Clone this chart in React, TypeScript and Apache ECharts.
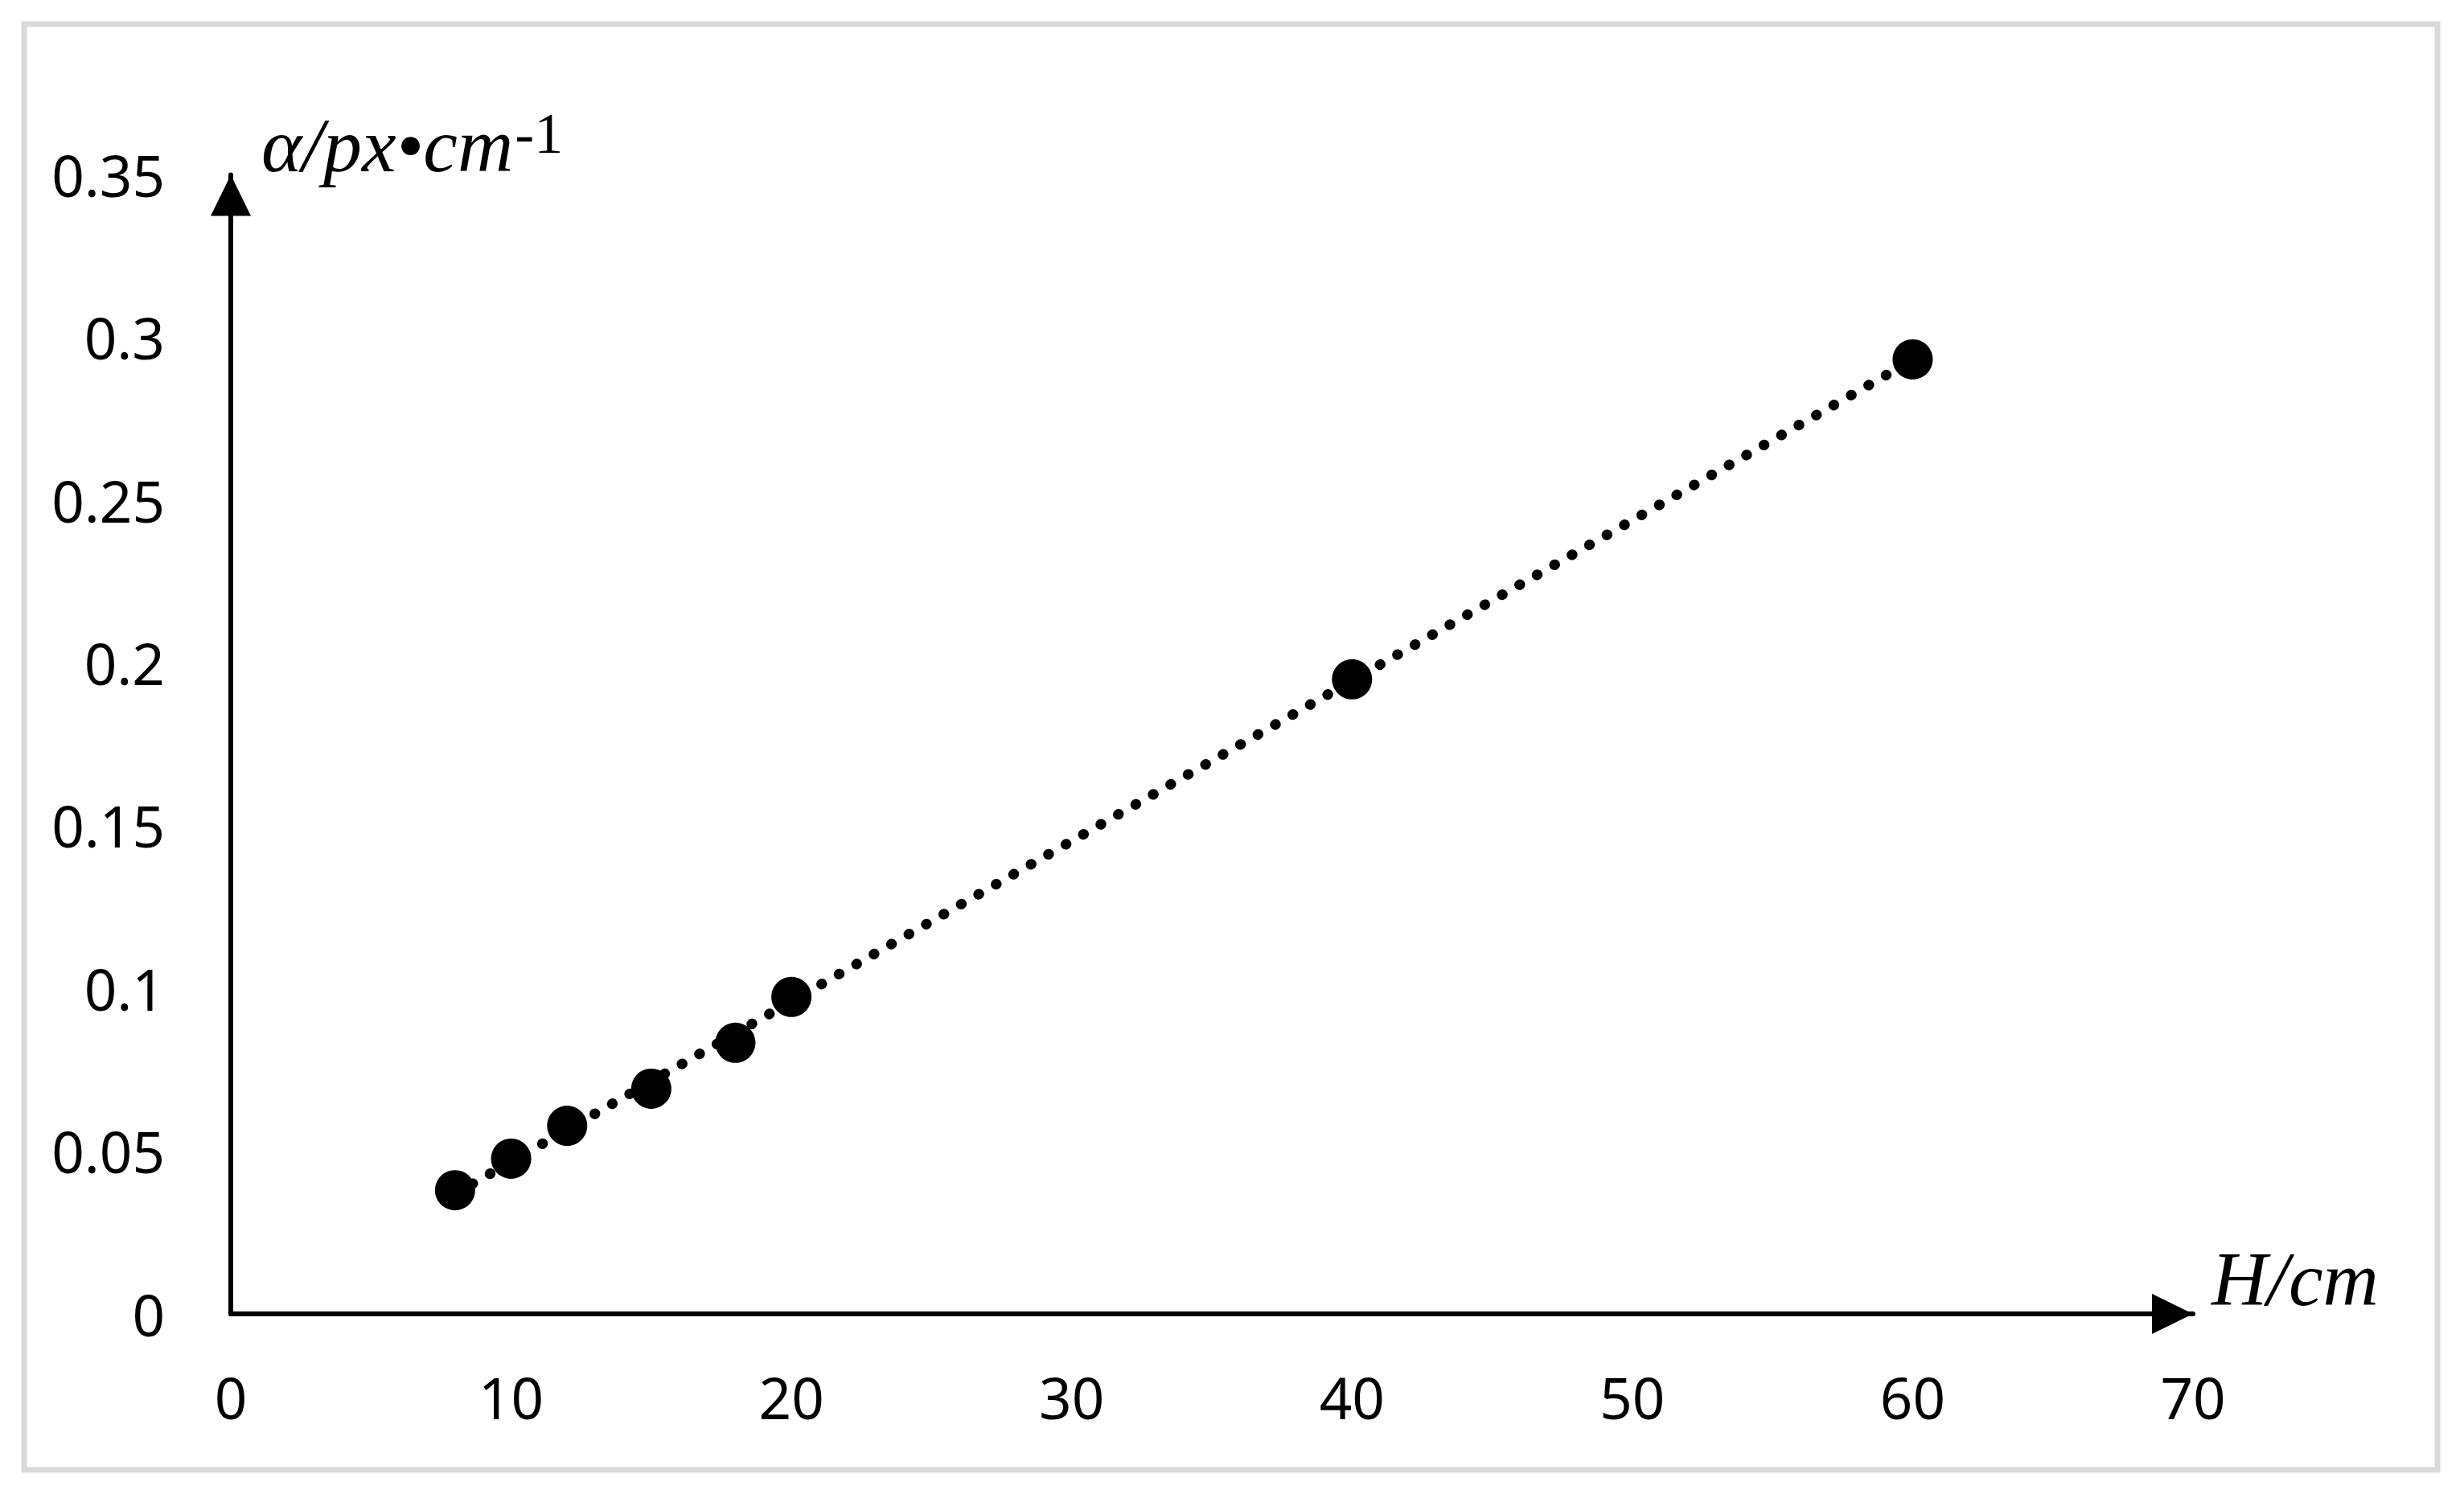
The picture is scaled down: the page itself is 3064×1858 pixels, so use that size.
import React, { useEffect, useRef } from "react";
import * as echarts from "echarts";

const heightsH = [8, 10, 12, 15, 18, 20, 40, 60];
const alphaValues = [0.038, 0.0477, 0.0578, 0.0692, 0.0833, 0.0974, 0.195, 0.2933];
const xTicks = { min: 0, max: 70, interval: 10 };
const yTicks = { min: 0, max: 0.35, interval: 0.05 };
const xTitle = "H/cm";
const yTitleMain = "α/px•cm";
const yTitleSup = "-1";

function linearFit(xs: number[], ys: number[]) {
  const n = xs.length;
  const mx = xs.reduce((a, b) => a + b, 0) / n;
  const my = ys.reduce((a, b) => a + b, 0) / n;
  let sxy = 0;
  let sxx = 0;
  for (let i = 0; i < n; i++) {
    sxy += (xs[i] - mx) * (ys[i] - my);
    sxx += (xs[i] - mx) * (xs[i] - mx);
  }
  const slope = sxy / sxx;
  return { slope, intercept: my - slope * mx };
}

export default function App() {
  const ref = useRef<HTMLDivElement>(null);
  useEffect(() => {
    if (!ref.current) return;
    const chart = echarts.init(ref.current, undefined, { renderer: "svg" });
    const fit = linearFit(heightsH, alphaValues);
    const x0 = Math.min(...heightsH);
    const x1 = Math.max(...heightsH);
    const trend = [
      [x0, fit.intercept + fit.slope * x0],
      [x1, fit.intercept + fit.slope * x1],
    ];
    const axisLine = {
      show: true,
      onZero: false,
      lineStyle: { color: "#000", width: 6 },
      symbol: ["none", "triangle"],
      symbolSize: [50, 51],
      symbolOffset: [0, -25.5],
    };
    chart.setOption({
      animation: false,
      backgroundColor: "#ffffff",
      grid: { left: 287, right: 337, top: 217.5, bottom: 224, containLabel: false },
      xAxis: {
        type: "value",
        min: xTicks.min,
        max: xTicks.max,
        interval: xTicks.interval,
        axisLine,
        axisTick: { show: false },
        splitLine: { show: false },
        axisLabel: { color: "#000", fontSize: 71, fontFamily: "Noto Sans", margin: 68 },
      },
      yAxis: {
        type: "value",
        min: yTicks.min,
        max: yTicks.max,
        interval: yTicks.interval,
        axisLine,
        axisTick: { show: false },
        splitLine: { show: false },
        axisLabel: { color: "#000", fontSize: 71, fontFamily: "Noto Sans", margin: 82 },
      },
      series: [
        {
          type: "line",
          data: trend,
          symbol: "none",
          z: 1,
          lineStyle: { color: "#000", width: 13, type: [0.5, 24.5], cap: "round", opacity: 1 },
        },
        {
          type: "scatter",
          data: heightsH.map((h, i) => [h, alphaValues[i]]),
          symbol: "circle",
          symbolSize: 50,
          z: 3,
          itemStyle: { color: "#000", opacity: 1 },
        },
      ],
      graphic: [
        {
          type: "rect",
          shape: { x: 30, y: 30, width: 3001, height: 1798 },
          style: { fill: "none", stroke: "#d9d9d9", lineWidth: 7 },
          silent: true,
        },
        {
          type: "text",
          x: 2750,
          y: 1590,
          style: {
            text: xTitle,
            fontFamily: "Liberation Serif",
            fontStyle: "italic",
            fontSize: 96,
            fill: "#000",
            align: "left",
            verticalAlign: "middle",
          },
        },
        {
          type: "text",
          x: 325,
          y: 130,
          style: {
            text: "{a|" + yTitleMain + "}{b|" + yTitleSup + "}",
            align: "left",
            verticalAlign: "top",
            rich: {
              a: {
                fontFamily: "Liberation Serif",
                fontStyle: "italic",
                fontSize: 96,
                fill: "#000",
                verticalAlign: "bottom",
              },
              b: {
                fontFamily: "Liberation Serif",
                fontStyle: "normal",
                fontSize: 72,
                fill: "#000",
                verticalAlign: "bottom",
                padding: [0, 0, 26, 2],
              },
            },
          },
        },
      ],
    });
    return () => chart.dispose();
  }, []);
  return (
    <div
      ref={ref}
      style={{ position: "absolute", left: 0, top: 0, width: 3064, height: 1858, background: "#fff" }}
    />
  );
}
